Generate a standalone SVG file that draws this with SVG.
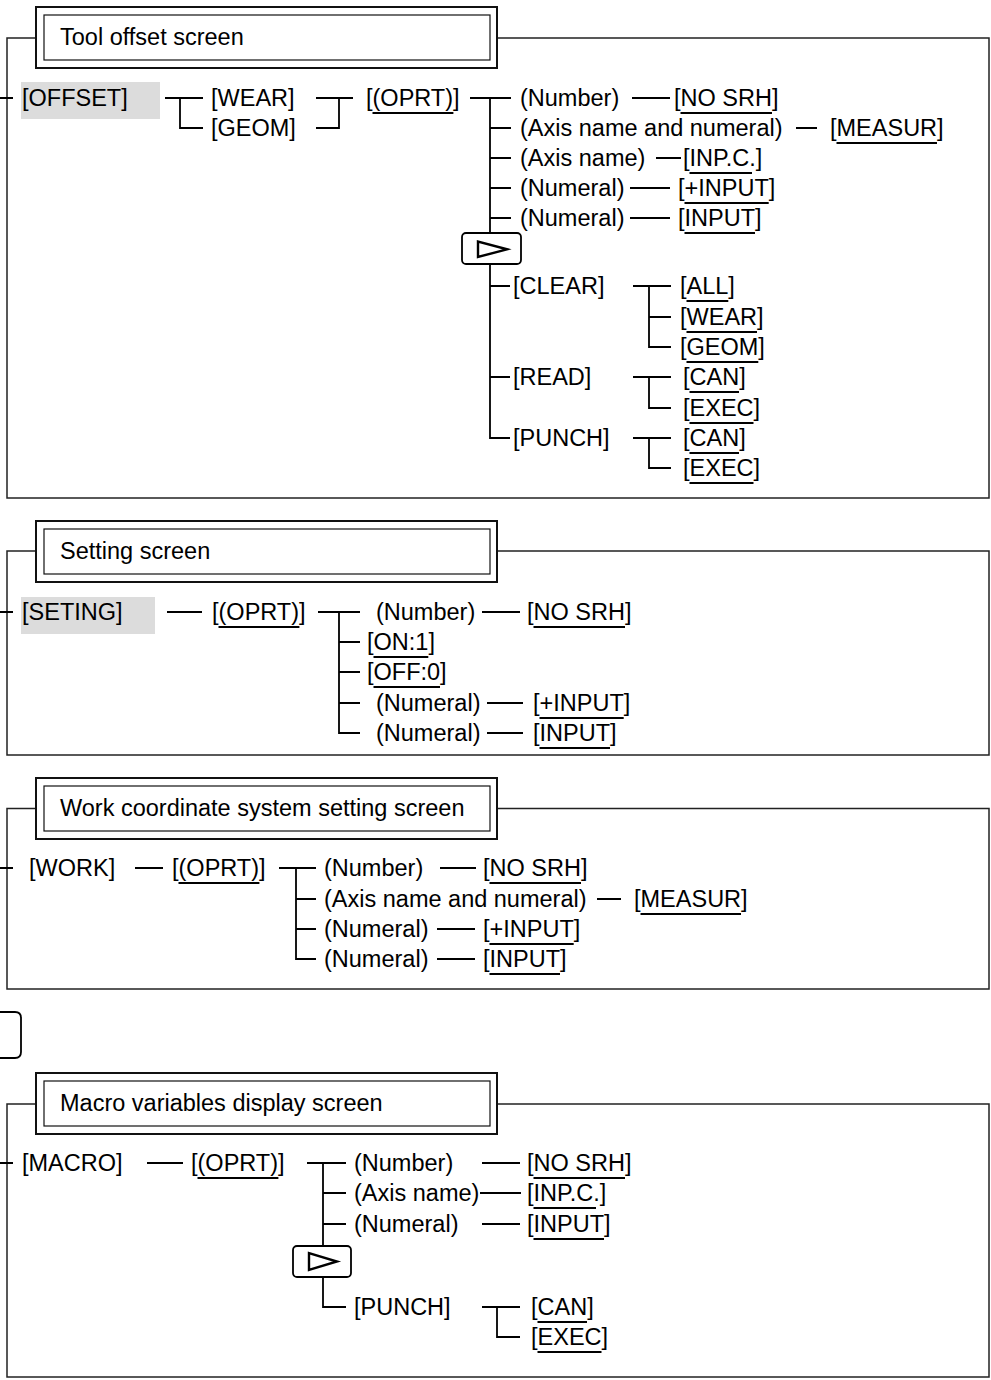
<svg xmlns="http://www.w3.org/2000/svg" width="991" height="1380" viewBox="0 0 991 1380">
<style>
.t{font-family:"Liberation Sans",Arial,sans-serif;font-size:23.5px;fill:#000}
.c{stroke:#000;stroke-width:1.8;fill:none}
.u{stroke:#000;stroke-width:2}
.fr{fill:none;stroke:#222;stroke-width:1.5}
.tb{fill:#fff;stroke:#111;stroke-width:2}
.ti{fill:none;stroke:#111;stroke-width:1.2}
.hl{fill:#dcdcdc}
.nx{fill:#fff;stroke:#000;stroke-width:1.8}
.tri{fill:none;stroke:#000;stroke-width:2.4;stroke-linejoin:miter}
</style>
<rect width="991" height="1380" fill="#fff"/>
<g id="frames">
<rect class="fr" x="7" y="38" width="982" height="460"/>
<rect class="fr" x="7" y="551" width="982" height="204"/>
<rect class="fr" x="7" y="808.5" width="982" height="180.5"/>
<rect class="fr" x="7" y="1104" width="982" height="273"/>
<path class="c" d="M0,1012 H15 Q21,1012 21,1018 V1052 Q21,1058 15,1058 H0"/>
</g>
<g id="connectors">
<path class="c" d="M0,98 H13 M165,98 H203 M180,98 V128 H203 M316,98 H353 M339,98 V128 H316 M470,98 H511 M490,98 V233 M490,128 H511 M490,158 H511 M490,188 H511 M490,218 H511 M490,264 V438 H510 M490,286 H510 M490,377 H510 M633,286 H671 M649,286 V347 H671 M649,317 H671 M633,377 H671 M649,377 V408 H671 M633,438 H671 M649,438 V468 H671 M632,98 H670 M796,128 H817 M656,158 H681 M630,188 H670 M630,218 H670"/>
<path class="c" d="M0,612 H13 M167,612 H202 M318,612 H360 M339,612 V733 H360 M339,642 H360 M339,672 H360 M339,703 H360 M482,612 H520 M487,703 H523 M487,733 H523"/>
<path class="c" d="M0,868 H13 M135,868 H163 M279,868 H316 M296,868 V959 H316 M296,899 H316 M296,929 H316 M440,868 H476 M597,899 H621 M437,929 H475 M437,959 H475"/>
<path class="c" d="M0,1163 H13 M147,1163 H183 M307,1163 H346 M323,1163 V1246 M323,1193 H346 M323,1224 H346 M323,1277 V1307 H346 M482,1163 H520 M480,1193 H521 M482,1224 H520 M482,1307 H520 M497,1307 V1337 H520"/>
</g>
<!-- Section 1 -->
<g id="title1"><rect class="tb" x="36" y="7" width="461" height="61"/><rect class="ti" x="44" y="15" width="446" height="45"/><text class="t" x="60" y="45">Tool offset screen</text></g>
<g id="s1-offset"><rect class="hl" x="21" y="82" width="139" height="37"/><text class="t" x="22" y="106">[OFFSET]</text></g>
<g id="s1-wear"><text class="t" x="211" y="106">[WEAR]</text></g>
<g id="s1-geom"><text class="t" x="211" y="136">[GEOM]</text></g>
<g id="s1-oprt"><text class="t" x="366" y="106">[(OPRT)]</text><line class="u" x1="372.5" y1="113" x2="453.4" y2="113"/></g>
<g id="s1-number"><text class="t" x="520" y="106">(Number)</text></g>
<g id="s1-nosrh"><text class="t" x="674" y="106">[NO SRH]</text><line class="u" x1="680.5" y1="113" x2="772" y2="113"/></g>
<g id="s1-axisnum"><text class="t" x="520" y="136">(Axis name and numeral)</text></g>
<g id="s1-measur"><text class="t" x="830" y="136">[MEASUR]</text><line class="u" x1="836.5" y1="143" x2="937" y2="143"/></g>
<g id="s1-axisname"><text class="t" x="520" y="166">(Axis name)</text></g>
<g id="s1-inpc"><text class="t" x="683" y="166">[INP.C.]</text><line class="u" x1="689.5" y1="173" x2="752" y2="173"/></g>
<g id="s1-numeral1"><text class="t" x="520" y="196">(Numeral)</text></g>
<g id="s1-pinput"><text class="t" x="678" y="196">[+INPUT]</text><line class="u" x1="684.5" y1="203" x2="768.7" y2="203"/></g>
<g id="s1-numeral2"><text class="t" x="520" y="226">(Numeral)</text></g>
<g id="s1-input"><text class="t" x="678" y="226">[INPUT]</text><line class="u" x1="684.5" y1="233" x2="755" y2="233"/></g>
<g id="s1-next"><rect class="nx" x="462" y="233" width="59" height="31" rx="4"/><path class="tri" d="M478,241.5 L478,257 L507,249.3 Z"/></g>
<g id="s1-clear"><text class="t" x="513" y="294">[CLEAR]</text></g>
<g id="s1-all"><text class="t" x="680" y="294">[ALL]</text><line class="u" x1="686.5" y1="301" x2="728.3" y2="301"/></g>
<g id="s1-wear2"><text class="t" x="680" y="325">[WEAR]</text><line class="u" x1="686.5" y1="332" x2="757" y2="332"/></g>
<g id="s1-geom2"><text class="t" x="680" y="355">[GEOM]</text><line class="u" x1="686.5" y1="362" x2="758.3" y2="362"/></g>
<g id="s1-read"><text class="t" x="513" y="385">[READ]</text></g>
<g id="s1-can1"><text class="t" x="683" y="385">[CAN]</text><line class="u" x1="689.5" y1="392" x2="739" y2="392"/></g>
<g id="s1-exec1"><text class="t" x="683" y="416">[EXEC]</text><line class="u" x1="689.5" y1="423" x2="753.5" y2="423"/></g>
<g id="s1-punch"><text class="t" x="513" y="446">[PUNCH]</text></g>
<g id="s1-can2"><text class="t" x="683" y="446">[CAN]</text><line class="u" x1="689.5" y1="453" x2="739" y2="453"/></g>
<g id="s1-exec2"><text class="t" x="683" y="476">[EXEC]</text><line class="u" x1="689.5" y1="483" x2="753.5" y2="483"/></g>
<!-- Section 2 -->
<g id="title2"><rect class="tb" x="36" y="521" width="461" height="61"/><rect class="ti" x="44" y="529" width="446" height="45"/><text class="t" x="60" y="559">Setting screen</text></g>
<g id="s2-seting"><rect class="hl" x="21" y="597" width="134" height="37"/><text class="t" x="22" y="620">[SETING]</text></g>
<g id="s2-oprt"><text class="t" x="212" y="620">[(OPRT)]</text><line class="u" x1="218.5" y1="627" x2="299.4" y2="627"/></g>
<g id="s2-number"><text class="t" x="376" y="620">(Number)</text></g>
<g id="s2-nosrh"><text class="t" x="527" y="620">[NO SRH]</text><line class="u" x1="533.5" y1="627" x2="625" y2="627"/></g>
<g id="s2-on1"><text class="t" x="367" y="650">[ON:1]</text><line class="u" x1="373.5" y1="657" x2="428.3" y2="657"/></g>
<g id="s2-off0"><text class="t" x="367" y="680">[OFF:0]</text><line class="u" x1="373.5" y1="687" x2="440" y2="687"/></g>
<g id="s2-numeral1"><text class="t" x="376" y="711">(Numeral)</text></g>
<g id="s2-pinput"><text class="t" x="533" y="711">[+INPUT]</text><line class="u" x1="539.5" y1="718" x2="623.7" y2="718"/></g>
<g id="s2-numeral2"><text class="t" x="376" y="741">(Numeral)</text></g>
<g id="s2-input"><text class="t" x="533" y="741">[INPUT]</text><line class="u" x1="539.5" y1="748" x2="610" y2="748"/></g>
<!-- Section 3 -->
<g id="title3"><rect class="tb" x="36" y="778" width="461" height="61"/><rect class="ti" x="44" y="786" width="446" height="45"/><text class="t" x="60" y="816">Work coordinate system setting screen</text></g>
<g id="s3-work"><text class="t" x="29" y="876">[WORK]</text></g>
<g id="s3-oprt"><text class="t" x="172" y="876">[(OPRT)]</text><line class="u" x1="178.5" y1="883" x2="259.4" y2="883"/></g>
<g id="s3-number"><text class="t" x="324" y="876">(Number)</text></g>
<g id="s3-nosrh"><text class="t" x="483" y="876">[NO SRH]</text><line class="u" x1="489.5" y1="883" x2="581" y2="883"/></g>
<g id="s3-axisnum"><text class="t" x="324" y="907">(Axis name and numeral)</text></g>
<g id="s3-measur"><text class="t" x="634" y="907">[MEASUR]</text><line class="u" x1="640.5" y1="914" x2="741" y2="914"/></g>
<g id="s3-numeral1"><text class="t" x="324" y="937">(Numeral)</text></g>
<g id="s3-pinput"><text class="t" x="483" y="937">[+INPUT]</text><line class="u" x1="489.5" y1="944" x2="573.7" y2="944"/></g>
<g id="s3-numeral2"><text class="t" x="324" y="967">(Numeral)</text></g>
<g id="s3-input"><text class="t" x="483" y="967">[INPUT]</text><line class="u" x1="489.5" y1="974" x2="560" y2="974"/></g>
<!-- Section 4 -->
<g id="title4"><rect class="tb" x="36" y="1073" width="461" height="61"/><rect class="ti" x="44" y="1081" width="446" height="45"/><text class="t" x="60" y="1111">Macro variables display screen</text></g>
<g id="s4-macro"><text class="t" x="22" y="1171">[MACRO]</text></g>
<g id="s4-oprt"><text class="t" x="191" y="1171">[(OPRT)]</text><line class="u" x1="197.5" y1="1178" x2="278.4" y2="1178"/></g>
<g id="s4-number"><text class="t" x="354" y="1171">(Number)</text></g>
<g id="s4-nosrh"><text class="t" x="527" y="1171">[NO SRH]</text><line class="u" x1="533.5" y1="1178" x2="625" y2="1178"/></g>
<g id="s4-axisname"><text class="t" x="354" y="1201">(Axis name)</text></g>
<g id="s4-inpc"><text class="t" x="527" y="1201">[INP.C.]</text><line class="u" x1="533.5" y1="1208" x2="596" y2="1208"/></g>
<g id="s4-numeral"><text class="t" x="354" y="1232">(Numeral)</text></g>
<g id="s4-input"><text class="t" x="527" y="1232">[INPUT]</text><line class="u" x1="533.5" y1="1239" x2="604" y2="1239"/></g>
<g id="s4-next"><rect class="nx" x="293" y="1246" width="58" height="31" rx="4"/><path class="tri" d="M309,1253 L309,1270 L337,1261.5 Z"/></g>
<g id="s4-punch"><text class="t" x="354" y="1315">[PUNCH]</text></g>
<g id="s4-can"><text class="t" x="531" y="1315">[CAN]</text><line class="u" x1="537.5" y1="1322" x2="587" y2="1322"/></g>
<g id="s4-exec"><text class="t" x="531" y="1345">[EXEC]</text><line class="u" x1="537.5" y1="1352" x2="601.5" y2="1352"/></g>
</svg>
